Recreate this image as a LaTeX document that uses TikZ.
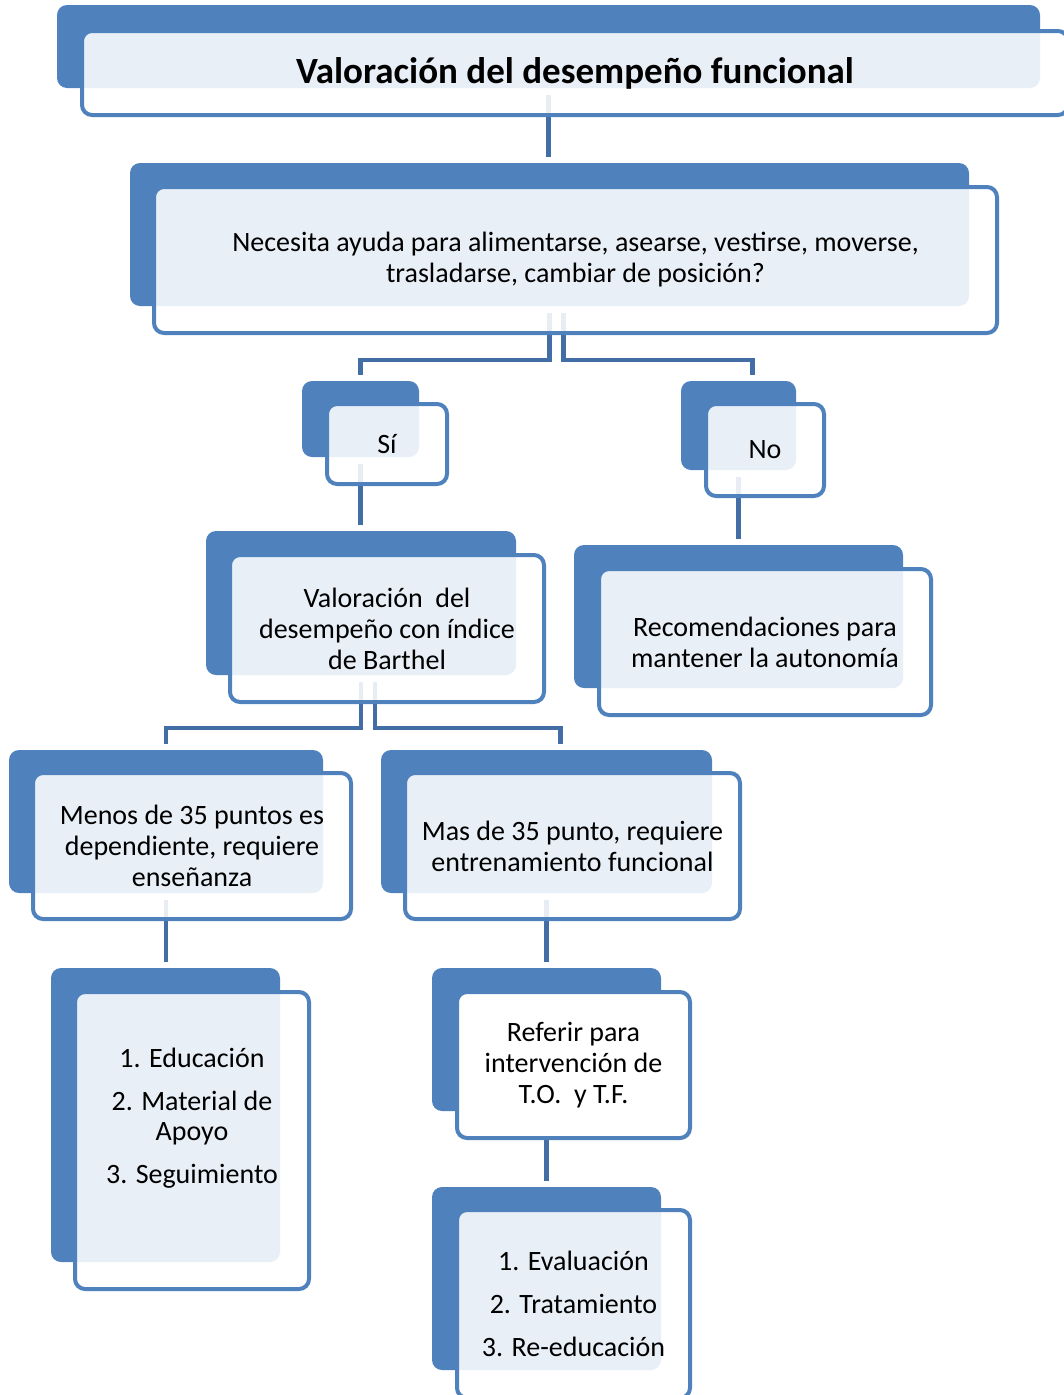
\documentclass[tikz,border=0pt]{standalone}
\usepackage{fontspec}
\setmainfont{Carlito}
\usetikzlibrary{positioning}
\definecolor{boxblue}{RGB}{79,129,189}
\definecolor{lineblue}{RGB}{66,110,165}

\begin{document}
\begin{tikzpicture}[
  x=1pt, y=-1pt,
  backbox/.style={fill=boxblue, rounded corners=10pt, inner sep=0pt, outer sep=0pt},
  frontbox/.style={draw=boxblue, line width=4pt, rounded corners=10pt, fill=white,
              fill opacity=0.88, text opacity=1, inner sep=0pt, outer sep=0pt,
              align=center, font=\fontsize{28}{31}\selectfont},
  lbl/.style={align=center, font=\fontsize{28}{30}\selectfont},
  conn/.style={draw=lineblue, line width=4.5pt, shorten <=7pt, shorten >=6pt}
 ]
\useasboundingbox (0,0) rectangle (1064,1395);

% back boxes
\node[backbox, minimum width=983, minimum height=83]  (title) at (548.5,46.5)  {};
\node[backbox, minimum width=839, minimum height=143] (nec)   at (549.5,234.5) {};
\node[backbox, minimum width=117, minimum height=76]  (si)    at (360.5,419)   {};
\node[backbox, minimum width=115, minimum height=89]  (no)    at (738.5,425.5) {};
\node[backbox, minimum width=310, minimum height=144] (bar)   at (361,603)     {};
\node[backbox, minimum width=329, minimum height=143] (rec)   at (738.5,616.5) {};
\node[backbox, minimum width=314, minimum height=143] (men)   at (166,821.5)   {};
\node[backbox, minimum width=331, minimum height=143] (mas)   at (546.5,821.5) {};
\node[backbox, minimum width=229, minimum height=294] (lstA)  at (165.5,1115)  {};
\node[backbox, minimum width=229, minimum height=143] (ref)   at (546.5,1039.5) {};
\node[backbox, minimum width=229, minimum height=183] (lstB)  at (546.5,1278.5) {};

% connectors
\draw[conn] (title.south) -- (title.south |- nec.north);
\draw[conn] (nec.south) -- ++(0,54) -| (si.north);
\draw[conn] ([xshift=14pt]nec.south) -- ++(0,54) -| ([xshift=14pt]no.north);
\draw[conn] (si.south) -- (si.south |- bar.north);
\draw[conn] (no.south) -- (rec.north);
\draw[conn] (bar.south) -- ++(0,53) -| (men.north);
\draw[conn] ([xshift=14pt]bar.south) -- ++(0,53) -| ([xshift=14pt]mas.north);
\draw[conn] (men.south) -- (men.south |- lstA.north);
\draw[conn] (mas.south) -- (ref.north);
\draw[conn] (ref.south) -- (lstB.north);

% front boxes
\node[frontbox, minimum width=986, minimum height=84, font=\fontsize{37}{40}\selectfont\bfseries]
  (titlef) at (575,73) {Valoración del desempeño funcional};
\node[frontbox, minimum width=843, minimum height=146] (necf) at (575.5,260)
  {Necesita ayuda para alimentarse, asearse, vestirse, moverse,\\trasladarse, cambiar de posición?};
\node[frontbox, minimum width=120, minimum height=80] (sif) at (387,444) {Sí};
\node[frontbox, minimum width=118, minimum height=92] (nof) at (765,450) {No};
\node[frontbox, minimum width=314, minimum height=147] (barf) at (387,628.5)
  {Valoración\ \ del\\desempeño con índice\\de Barthel};
\node[frontbox, minimum width=332, minimum height=146] (recf) at (765,642)
  {Recomendaciones para\\mantener la autonomía};
\node[frontbox, minimum width=318, minimum height=146] (menf) at (192,846)
  {Menos de 35 puntos es\\dependiente, requiere\\enseñanza};
\node[frontbox, minimum width=335, minimum height=146] (masf) at (572.5,846)
  {Mas de 35 punto, requiere\\entrenamiento funcional};
\node[frontbox, minimum width=234, minimum height=297] (lstAf) at (192,1140.5) {};
\node[lbl] (lstAt) at (192,1118)
  {1. Educación\\[13pt]2. Material de\\Apoyo\\[13pt]3. Seguimiento};
\node[frontbox, fill opacity=1, minimum width=233, minimum height=146] (reff) at (573.5,1065)
  {Referir para\\intervención de\\T.O.\ \ y T.F.};
\node[frontbox, minimum width=233, minimum height=188] (lstBf) at (573.5,1304)
  {1. Evaluación\\[12pt]2. Tratamiento\\[12pt]3. Re-educación};
\end{tikzpicture}
\end{document}
